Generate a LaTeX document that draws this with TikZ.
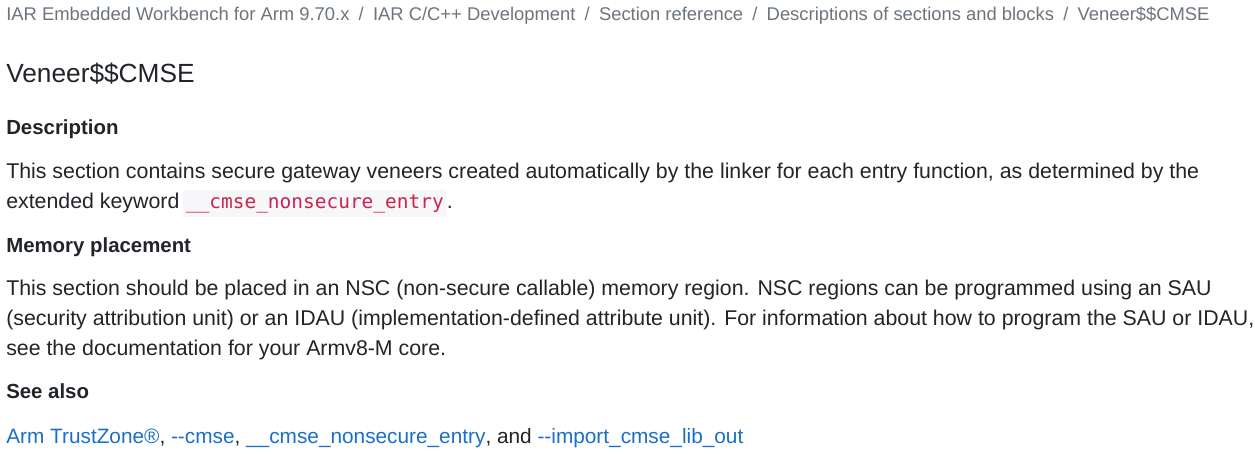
\documentclass[tikz,border=0pt]{standalone}
\usepackage{fontspec}
\setmainfont{Liberation Sans}
\setmonofont{DejaVu Sans Mono}
\definecolor{crumbgray}{HTML}{6C757D}
\definecolor{textdark}{HTML}{212529}
\definecolor{linkblue}{HTML}{1A6FC9}
\definecolor{codered}{HTML}{C7254E}
\definecolor{codebg}{HTML}{F7F7F9}
\tikzset{
  px/.style={x=0.75pt, y=-0.75pt},
  line/.style={anchor=base west, inner sep=0pt, text=textdark, font=\fontsize{16}{18}\selectfont},
  crumb/.style={line, text=crumbgray, font=\fontsize{13.8}{16}\selectfont},
  head/.style={line, font=\fontsize{15.3}{18}\selectfont\bfseries},
  title/.style={line, font=\fontsize{19.7}{22}\selectfont},
}
\newcommand{\sep}{\hspace{0.5em}/\hspace{0.5em}}
\newcommand{\lnk}[1]{\textcolor{linkblue}{#1}}
\begin{document}
\begin{tikzpicture}[px]
  \useasboundingbox (0,0) rectangle (1255,454);
  \fill[white] (0,0) rectangle (1255,454);
  % breadcrumb
  \node[crumb] (crumbs) at (6,20) {IAR Embedded Workbench for Arm 9.70.x\sep IAR C/C++ Development\sep Section reference\sep Descriptions of sections and blocks\sep Veneer\$\$CMSE};
  \node[title] (title) at (6,82) {Veneer\$\$CMSE};
  % description
  \node[head] (desc) at (6,134) {Description};
  \node[line] (desc1) at (6,178) {This section contains secure gateway veneers created automatically by the linker for each entry function, as determined by the};
  \node[line] (desc2) at (6,208) {extended keyword};
  \node[anchor=base west, fill=codebg, inner xsep=2pt, inner ysep=3pt, text=codered,
        font=\ttfamily\fontsize{14.6}{16}\selectfont] (kw) at (183,208) {\_\_cmse\_nonsecure\_entry};
  \node[line] (dot) at (kw.base east) {.};
  % memory placement
  \node[head] (mem) at (6,252) {Memory placement};
  \node[line] (mem1) at (6,295) {This section should be placed in an NSC (non-secure callable) memory region. NSC regions can be programmed using an SAU};
  \node[line] (mem2) at (6,325) {(security attribution unit) or an IDAU (implementation-defined attribute unit). For information about how to program the SAU or IDAU,};
  \node[line] (mem3) at (6,355) {see the documentation for your Armv8-M core.};
  % see also
  \node[head] (see) at (6,398) {See also};
  \node[line, font=\fontsize{15.6}{18}\selectfont] (links) at (6,443) {\lnk{Arm TrustZone\textregistered}, \lnk{-{}-cmse}, \lnk{\_\_cmse\_nonsecure\_entry}, and \lnk{-{}-import\_cmse\_lib\_out}};
\end{tikzpicture}
\end{document}
